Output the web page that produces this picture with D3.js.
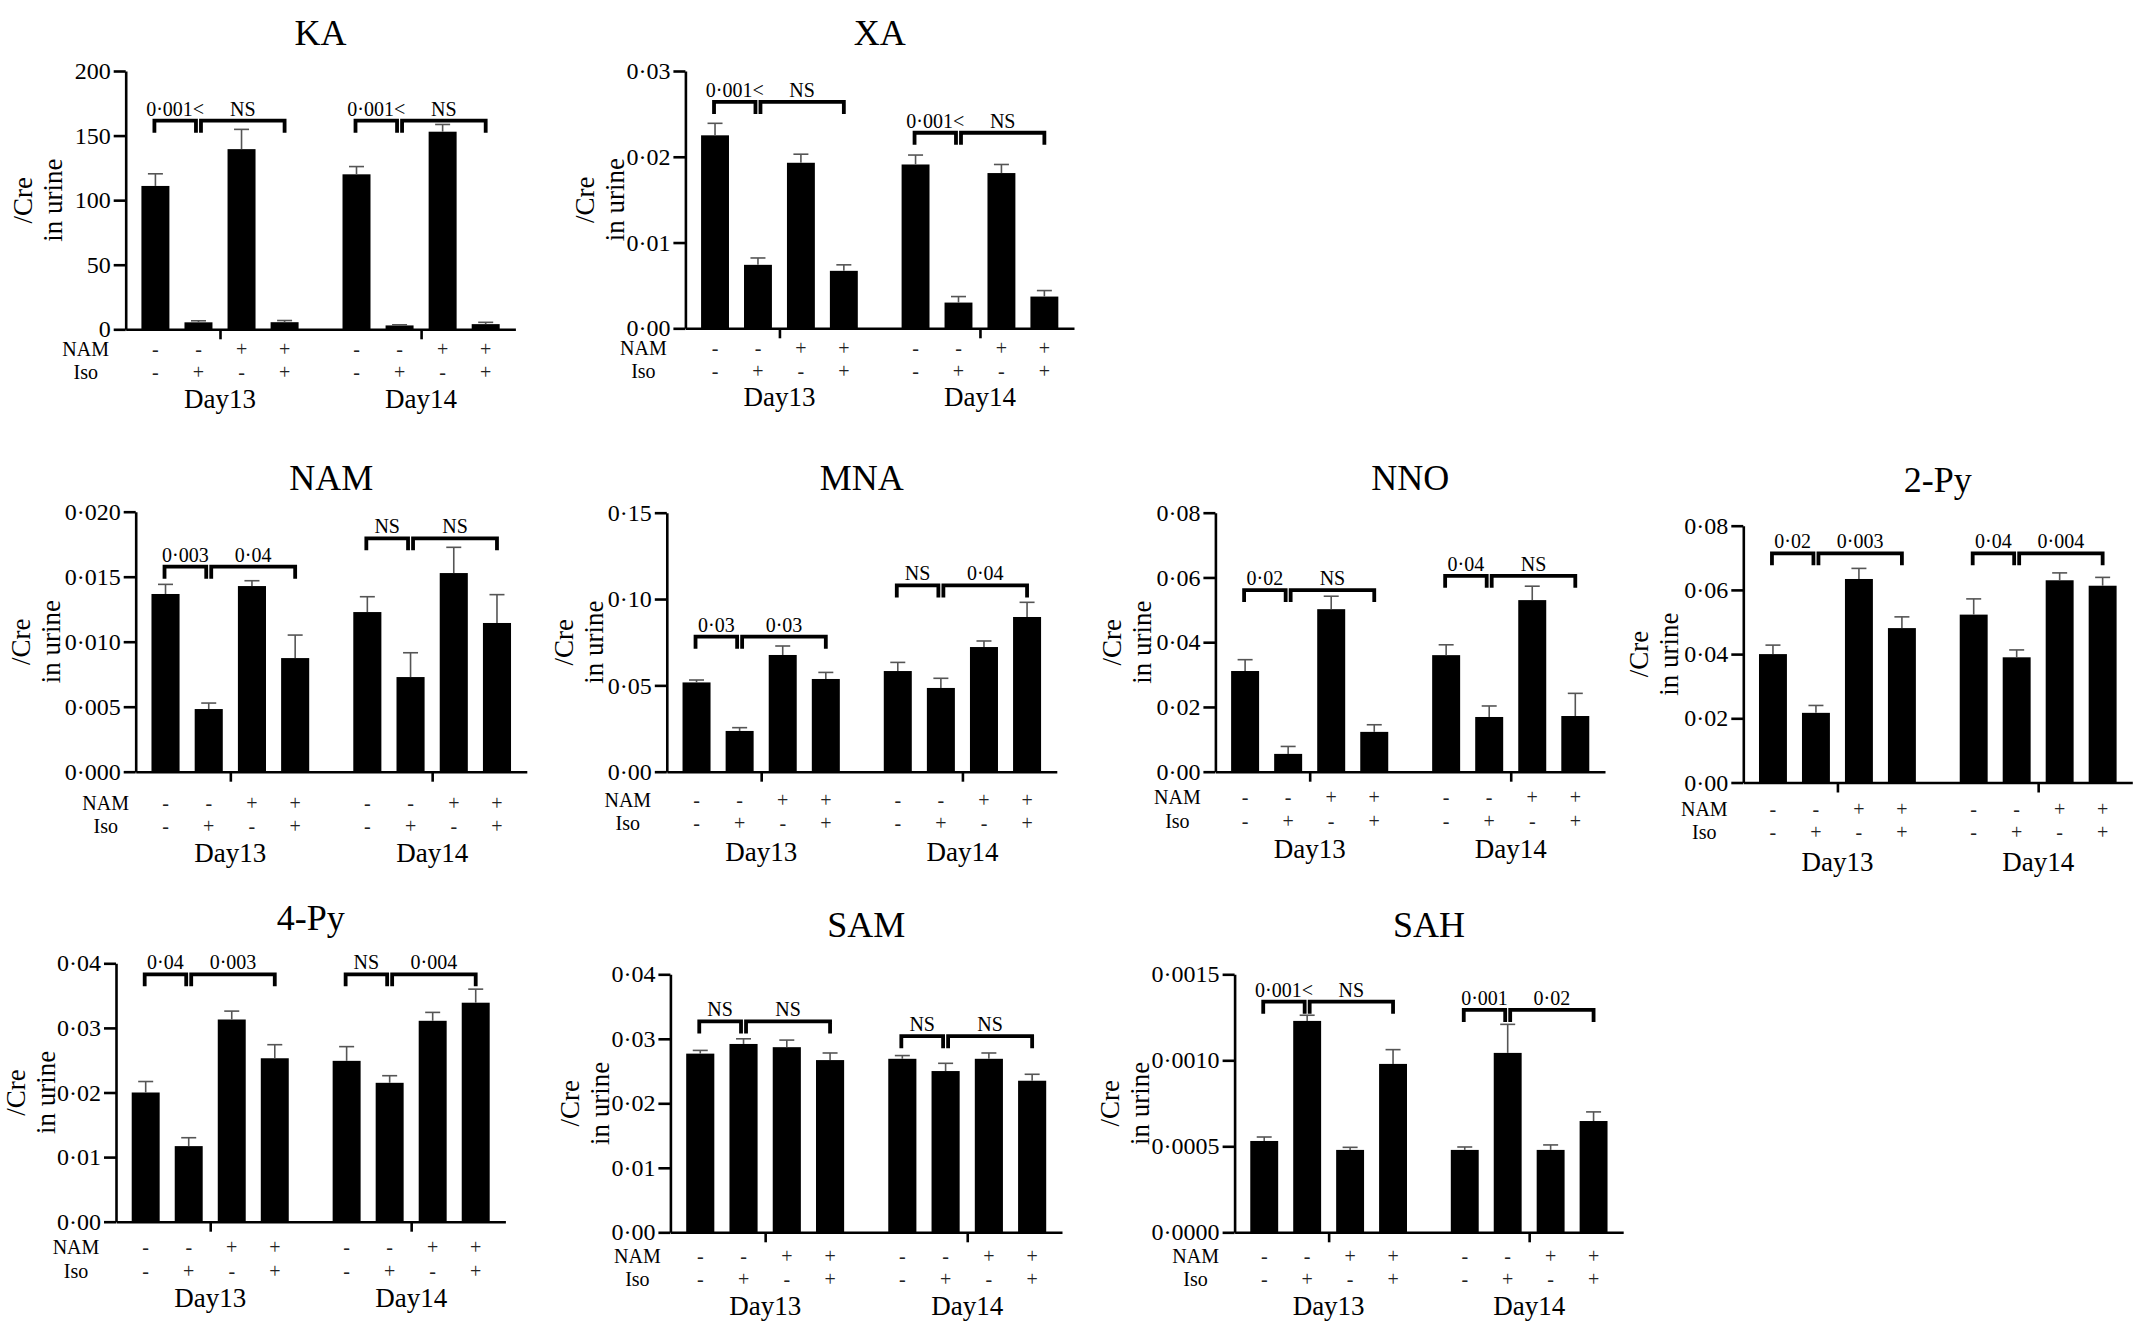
<!DOCTYPE html>
<html>
<head>
<meta charset="utf-8">
<script src="https://cdn.jsdelivr.net/npm/d3@7"></script>
<style>
  body { margin: 0; background: #fff; }
</style>
</head>
<body>
<div id="chart"></div>
<script>
const FONT = "'Liberation Serif', 'Times New Roman', serif";

// groups + treatment rows under the x axis
const days = ['Day13', 'Day14'];
const namRow = ['-', '-', '+', '+', '-', '-', '+', '+'];
const isoRow = ['-', '+', '-', '+', '-', '+', '-', '+'];

// mean and SEM per metabolite (8 bars: Day13 x4, Day14 x4)
const kaMean = [111, 5.4, 139.5, 5.5, 120, 3, 153, 4];
const kaSem = [9.4, 1.2, 15.3, 1.3, 6, 0.5, 5.6, 1.4];
const xaMean = [0.0225, 0.0074, 0.0193, 0.0067, 0.0191, 0.0030, 0.0181, 0.0037];
const xaSem = [0.0014, 0.0008, 0.0010, 0.0007, 0.0011, 0.0007, 0.0010, 0.0007];
const namMean = [0.01367, 0.00482, 0.01428, 0.00874, 0.01228, 0.00728, 0.01528, 0.01144];
const namSem = [0.00074, 0.00046, 0.00041, 0.00177, 0.00118, 0.00187, 0.00198, 0.00218];
const mnaMean = [0.0517, 0.0236, 0.0676, 0.0537, 0.0583, 0.0485, 0.0722, 0.0896];
const mnaSem = [0.0014, 0.0019, 0.0052, 0.0038, 0.0050, 0.0056, 0.0035, 0.0085];
const nnoMean = [0.0311, 0.0055, 0.0502, 0.0123, 0.0360, 0.0169, 0.0530, 0.0172];
const nnoSem = [0.0035, 0.0023, 0.0040, 0.0022, 0.0032, 0.0034, 0.0043, 0.0070];
const py2Mean = [0.0400, 0.0217, 0.0634, 0.0481, 0.0523, 0.0390, 0.0630, 0.0613];
const py2Sem = [0.0028, 0.0023, 0.0033, 0.0035, 0.0049, 0.0023, 0.0023, 0.0026];
const py4Mean = [0.0200, 0.0117, 0.0313, 0.0253, 0.0249, 0.0215, 0.0311, 0.0339];
const py4Sem = [0.0017, 0.0013, 0.0013, 0.0021, 0.0022, 0.0011, 0.0013, 0.0021];
const samMean = [0.0277, 0.0292, 0.0287, 0.0267, 0.0269, 0.0250, 0.0269, 0.0235];
const samSem = [0.0005, 0.0008, 0.0011, 0.0011, 0.0005, 0.0012, 0.0009, 0.0010];
const sahMean = [0.000531, 0.001229, 0.000479, 0.000979, 0.000479, 0.001043, 0.000479, 0.000647];
const sahSem = [0.000023, 0.000033, 0.000015, 0.000083, 0.000017, 0.000166, 0.000029, 0.000053];

// y ticks
const kaTicks = [0, 50, 100, 150, 200];
const kaTickLabels = ['0', '50', '100', '150', '200'];
const xaTicks = [0, 0.01, 0.02, 0.03];
const xaTickLabels = ['0·00', '0·01', '0·02', '0·03'];
const namTicks = [0, 0.005, 0.010, 0.015, 0.020];
const namTickLabels = ['0·000', '0·005', '0·010', '0·015', '0·020'];
const mnaTicks = [0, 0.05, 0.10, 0.15];
const mnaTickLabels = ['0·00', '0·05', '0·10', '0·15'];
const nnoTicks = [0, 0.02, 0.04, 0.06, 0.08];
const nnoTickLabels = ['0·00', '0·02', '0·04', '0·06', '0·08'];
const py4Ticks = [0, 0.01, 0.02, 0.03, 0.04];
const py4TickLabels = ['0·00', '0·01', '0·02', '0·03', '0·04'];
const sahTicks = [0, 0.0005, 0.0010, 0.0015];
const sahTickLabels = ['0·0000', '0·0005', '0·0010', '0·0015'];

// significance brackets: level per day group, then p labels (pair 1-2, pair 2-4) per group
const kaLevels = [161.5, 161.5];
const kaP = ['0·001<', 'NS', '0·001<', 'NS'];
const xaLevels = [0.0264, 0.0228];
const xaP = ['0·001<', 'NS', '0·001<', 'NS'];
const namLevels = [0.01577, 0.01795];
const namP = ['0·003', '0·04', 'NS', 'NS'];
const mnaLevels = [0.0782, 0.1079];
const mnaP = ['0·03', '0·03', 'NS', '0·04'];
const nnoLevels = [0.0561, 0.0605];
const nnoP = ['0·02', 'NS', '0·04', 'NS'];
const py2Levels = [0.0714, 0.0714];
const py2P = ['0·02', '0·003', '0·04', '0·004'];
const py4Levels = [0.0383, 0.0383];
const py4P = ['0·04', '0·003', 'NS', '0·004'];
const samLevels = [0.0327, 0.0304];
const samP = ['NS', 'NS', 'NS', 'NS'];
const sahLevels = [0.001341, 0.001293];
const sahP = ['0·001<', 'NS', '0·001', '0·02'];

const panels = [
    { title: 'KA', mean: kaMean, sem: kaSem, ticks: kaTicks, labels: kaTickLabels, levels: kaLevels, p: kaP },
    { title: 'XA', mean: xaMean, sem: xaSem, ticks: xaTicks, labels: xaTickLabels, levels: xaLevels, p: xaP },
    { title: 'NAM', mean: namMean, sem: namSem, ticks: namTicks, labels: namTickLabels, levels: namLevels, p: namP },
    { title: 'MNA', mean: mnaMean, sem: mnaSem, ticks: mnaTicks, labels: mnaTickLabels, levels: mnaLevels, p: mnaP },
    { title: 'NNO', mean: nnoMean, sem: nnoSem, ticks: nnoTicks, labels: nnoTickLabels, levels: nnoLevels, p: nnoP },
    { title: '2-Py', mean: py2Mean, sem: py2Sem, ticks: nnoTicks, labels: nnoTickLabels, levels: py2Levels, p: py2P },
    { title: '4-Py', mean: py4Mean, sem: py4Sem, ticks: py4Ticks, labels: py4TickLabels, levels: py4Levels, p: py4P },
    { title: 'SAM', mean: samMean, sem: samSem, ticks: py4Ticks, labels: py4TickLabels, levels: samLevels, p: samP },
    { title: 'SAH', mean: sahMean, sem: sahSem, ticks: sahTicks, labels: sahTickLabels, levels: sahLevels, p: sahP }
];

// where each panel sits on the page (axis box in px)
const layout = [
    { x0: 125.7, x1: 515.4, yTop: 71, yZero: 329.3, titleY: 45, rows: [27, 50, 79], rowLabX: -40, gap: 13 },
    { x0: 685.4, x1: 1074, yTop: 71, yZero: 328.3, titleY: 45, rows: [27, 50, 78], rowLabX: -42, gap: 2 },
    { x0: 135.7, x1: 526.8, yTop: 511.7, yZero: 771.7, titleY: 490, rows: [38, 61, 90], rowLabX: -30, gap: 5 },
    { x0: 666.8, x1: 1056.8, yTop: 512.7, yZero: 771.7, titleY: 490, rows: [35, 58, 89], rowLabX: -39, gap: 5 },
    { x0: 1215.4, x1: 1605, yTop: 512.7, yZero: 771.7, titleY: 490, rows: [32, 56, 86], rowLabX: -38, gap: 5 },
    { x0: 1743.3, x1: 2132.3, yTop: 525.7, yZero: 782.5, titleY: 491.7, rows: [33, 56, 88], rowLabX: -39, gap: 6 },
    { x0: 116, x1: 505.4, yTop: 963.3, yZero: 1221.7, titleY: 930, rows: [32, 56, 85], rowLabX: -40, gap: 2 },
    { x0: 670.4, x1: 1062, yTop: 974.3, yZero: 1232.3, titleY: 936.7, rows: [31, 54, 83], rowLabX: -33, gap: 2 },
    { x0: 1234.6, x1: 1623.2, yTop: 974.3, yZero: 1232.3, titleY: 936.7, rows: [31, 54, 83], rowLabX: -39, gap: 3 }
];

const svg = d3.select('#chart').append('svg')
    .attr('width', 2134)
    .attr('height', 1322)
    .attr('font-family', FONT);

svg.append('rect').attr('width', 2134).attr('height', 1322).attr('fill', '#fff');

// bar slot: 4 bars, a gap, 4 bars
const slot = i => i + (i >= 4 ? 0.67 : 0);
const barW = 0.65;

function txt(sel) {
    return sel.append('text').attr('font-family', FONT).attr('fill', '#000');
}

panels.forEach((p, k) => {
    const L = layout[k];
    const g = svg.append('g');

    const x = d3.scaleLinear().domain([-0.69, 8.36]).range([L.x0, L.x1]);
    const y = d3.scaleLinear().domain([0, p.ticks[p.ticks.length - 1]]).range([L.yZero, L.yTop]);
    const bw = x(barW) - x(0);

    // title
    txt(g)
        .attr('x', (L.x0 + L.x1) / 2)
        .attr('y', L.titleY)
        .attr('text-anchor', 'middle')
        .attr('font-size', 36)
        .text(p.title);

    // bars
    g.selectAll('rect.bar')
        .data(p.mean)
        .enter()
        .append('rect')
        .attr('class', 'bar')
        .attr('x', (d, i) => x(slot(i)) - bw / 2)
        .attr('y', d => y(d))
        .attr('width', bw)
        .attr('height', d => y(0) - y(d))
        .attr('fill', '#000');

    // error bars (upper only)
    const eb = g.selectAll('g.err')
        .data(p.mean)
        .enter()
        .append('g')
        .attr('class', 'err')
        .attr('stroke', '#555')
        .attr('stroke-width', 1.6);
    eb.append('line')
        .attr('x1', (d, i) => x(slot(i)))
        .attr('x2', (d, i) => x(slot(i)))
        .attr('y1', d => y(d))
        .attr('y2', (d, i) => y(d + p.sem[i]));
    eb.append('line')
        .attr('x1', (d, i) => x(slot(i)) - 7.5)
        .attr('x2', (d, i) => x(slot(i)) + 7.5)
        .attr('y1', (d, i) => y(d + p.sem[i]))
        .attr('y2', (d, i) => y(d + p.sem[i]));

    // y axis
    const yAxis = g.append('g')
        .attr('transform', `translate(${L.x0},0)`)
        .call(d3.axisLeft(y)
            .tickValues(p.ticks)
            .tickFormat((d, i) => p.labels[i])
            .tickSize(12)
            .tickSizeOuter(0)
            .tickPadding(3));
    yAxis.attr('font-family', FONT).attr('font-size', 24);
    yAxis.select('.domain').attr('stroke', '#000').attr('stroke-width', 2.6);
    yAxis.selectAll('.tick line').attr('stroke', '#000').attr('stroke-width', 2.6);
    yAxis.selectAll('.tick text')
        .attr('font-size', 24)
        .attr('font-family', FONT)
        .attr('fill', '#000');

    // x axis with a tick under each day group
    const centers = [(slot(0) + slot(3)) / 2, (slot(4) + slot(7)) / 2];
    const xAxis = g.append('g')
        .attr('transform', `translate(0,${L.yZero})`)
        .call(d3.axisBottom(x)
            .tickValues(centers)
            .tickFormat('')
            .tickSize(10)
            .tickSizeOuter(0));
    xAxis.select('.domain').attr('stroke', '#000').attr('stroke-width', 2.6);
    xAxis.selectAll('.tick line').attr('stroke', '#000').attr('stroke-width', 2.6);

    // y label, two rotated lines to the left of the tick labels
    const bb = yAxis.node().getBBox();
    const left = L.x0 + bb.x - L.gap;
    const midY = (L.yTop + L.yZero) / 2;
    [['in urine', 0], ['/Cre', 30]].forEach(([t, off]) => {
        txt(g)
            .attr('transform', `translate(${left - off},${midY}) rotate(-90)`)
            .attr('text-anchor', 'middle')
            .attr('font-size', 27)
            .text(t);
    });

    // NAM / Iso rows
    [['NAM', namRow, L.rows[0]], ['Iso', isoRow, L.rows[1]]].forEach(([name, row, dy]) => {
        txt(g)
            .attr('x', L.x0 + L.rowLabX)
            .attr('y', L.yZero + dy)
            .attr('text-anchor', 'middle')
            .attr('font-size', 20)
            .text(name);
        g.selectAll(null)
            .data(row)
            .enter()
            .append('text')
            .attr('font-family', FONT)
            .attr('x', (d, i) => x(slot(i)))
            .attr('y', L.yZero + dy)
            .attr('text-anchor', 'middle')
            .attr('font-size', 20)
            .attr('fill', '#222')
            .text(d => d);
    });

    // day labels
    g.selectAll(null)
        .data(days)
        .enter()
        .append('text')
        .attr('font-family', FONT)
        .attr('x', (d, i) => x(centers[i]))
        .attr('y', L.yZero + L.rows[2])
        .attr('text-anchor', 'middle')
        .attr('font-size', 27)
        .text(d => d);

    // brackets
    const leg = 12;
    p.levels.forEach((lv, gi) => {
        const ly = y(lv);
        const a = x(slot(gi * 4)), b = x(slot(gi * 4 + 1)), c = x(slot(gi * 4 + 3));
        const spans = [[a - 1, b - 2.5], [b + 2.5, c]];
        spans.forEach(([s, e], j) => {
            g.append('path')
                .attr('d', `M${s},${ly + leg}V${ly}H${e}V${ly + leg}`)
                .attr('fill', 'none')
                .attr('stroke', '#000')
                .attr('stroke-width', 3.8)
                .attr('stroke-linejoin', 'miter');
            txt(g)
                .attr('x', (s + e) / 2)
                .attr('y', ly - 5)
                .attr('text-anchor', 'middle')
                .attr('font-size', 20)
                .text(p.p[gi * 2 + j]);
        });
    });
});
</script>
</body>
</html>
